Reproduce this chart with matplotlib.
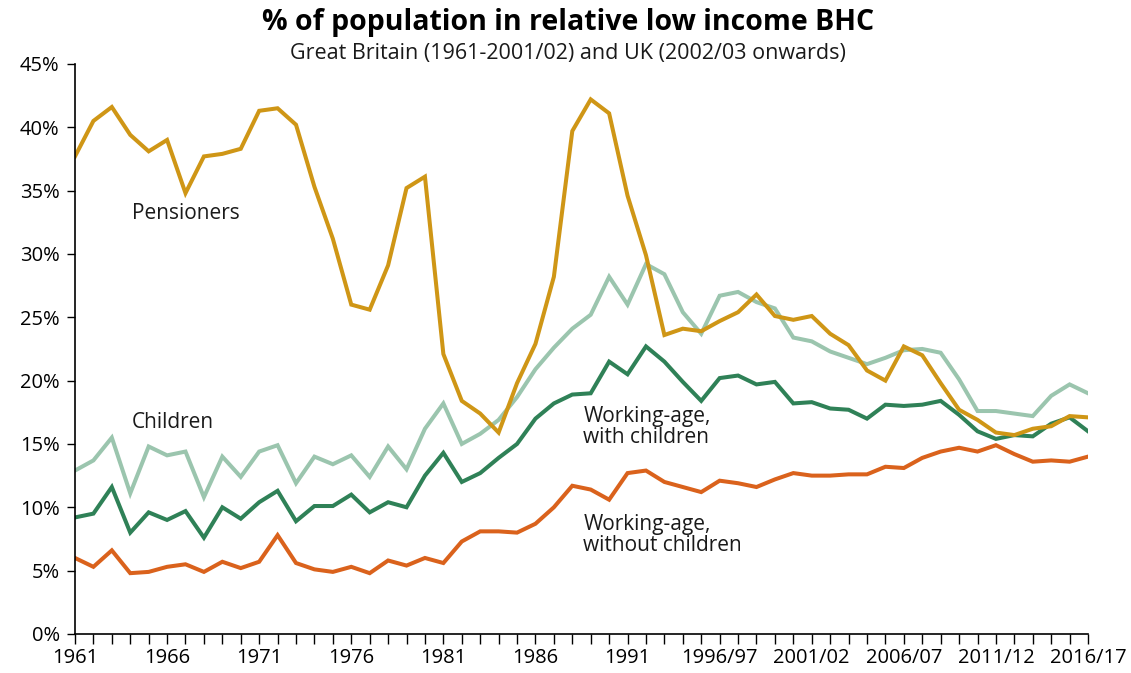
import matplotlib

matplotlib.use('Agg')
import matplotlib.pyplot as plt
from matplotlib.ticker import FuncFormatter, MultipleLocator

plt.rcParams['font.family'] = ['Open Sans', 'DejaVu Sans']

years = [str(y) for y in range(1961, 1994)] + \
        [f"{y}/{str(y + 1)[2:]}" for y in range(1994, 2017)]

pensioners = [37.7, 40.5, 41.6, 39.4, 38.1, 39.0, 34.8, 37.7, 37.9, 38.3,
              41.3, 41.5, 40.2, 35.3, 31.2, 26.0, 25.6, 29.1, 35.2, 36.1,
              22.1, 18.4, 17.4, 15.9, 19.8, 22.9, 28.2, 39.7, 42.2, 41.1,
              34.6, 29.9, 23.6, 24.1, 23.9, 24.7, 25.4, 26.8, 25.1, 24.8,
              25.1, 23.7, 22.8, 20.8, 20.0, 22.7, 22.0, 19.8, 17.7, 16.9,
              15.9, 15.7, 16.2, 16.4, 17.2, 17.1]
children = [12.9, 13.7, 15.5, 11.1, 14.8, 14.1, 14.4, 10.8, 14.0, 12.4,
            14.4, 14.9, 11.9, 14.0, 13.4, 14.1, 12.4, 14.8, 13.0, 16.2,
            18.2, 15.0, 15.8, 16.9, 18.7, 20.9, 22.6, 24.1, 25.2, 28.2,
            26.0, 29.2, 28.4, 25.4, 23.7, 26.7, 27.0, 26.2, 25.7, 23.4,
            23.1, 22.3, 21.8, 21.3, 21.8, 22.4, 22.5, 22.2, 20.1, 17.6,
            17.6, 17.4, 17.2, 18.8, 19.7, 19.0]
wa_with = [9.2, 9.5, 11.6, 8.0, 9.6, 9.0, 9.7, 7.6, 10.0, 9.1,
           10.4, 11.3, 8.9, 10.1, 10.1, 11.0, 9.6, 10.4, 10.0, 12.5,
           14.3, 12.0, 12.7, 13.9, 15.0, 17.0, 18.2, 18.9, 19.0, 21.5,
           20.5, 22.7, 21.5, 19.9, 18.4, 20.2, 20.4, 19.7, 19.9, 18.2,
           18.3, 17.8, 17.7, 17.0, 18.1, 18.0, 18.1, 18.4, 17.3, 16.0,
           15.4, 15.7, 15.6, 16.6, 17.1, 16.0]
wa_without = [6.0, 5.3, 6.6, 4.8, 4.9, 5.3, 5.5, 4.9, 5.7, 5.2,
              5.7, 7.8, 5.6, 5.1, 4.9, 5.3, 4.8, 5.8, 5.4, 6.0,
              5.6, 7.3, 8.1, 8.1, 8.0, 8.7, 10.0, 11.7, 11.4, 10.6,
              12.7, 12.9, 12.0, 11.6, 11.2, 12.1, 11.9, 11.6, 12.2, 12.7,
              12.5, 12.5, 12.6, 12.6, 13.2, 13.1, 13.9, 14.4, 14.7, 14.4,
              14.9, 14.2, 13.6, 13.7, 13.6, 14.0]

x = list(range(len(years)))

fig = plt.figure(figsize=(11.31, 6.73), dpi=100)
ax = fig.add_axes([0.0663, 0.058, 0.8957, 0.847])

lw = 2.9
ax.plot(x, children, color='#9BC5AE', lw=lw, solid_joinstyle='miter')
ax.plot(x, wa_with, color='#2F8157', lw=lw, solid_joinstyle='miter')
ax.plot(x, wa_without, color='#DA621C', lw=lw, solid_joinstyle='miter')
ax.plot(x, pensioners, color='#CF9616', lw=lw, solid_joinstyle='miter')

ax.set_xlim(0, len(years) - 1)
ax.set_ylim(0, 45)
ax.yaxis.set_major_locator(MultipleLocator(5))
ax.yaxis.set_major_formatter(FuncFormatter(lambda v, p: f"{v:.0f}%"))

ax.set_xticks(x)
ax.set_xticklabels([years[i] if i % 5 == 0 else '' for i in x])
ax.tick_params(axis='x', length=7, width=1, labelsize=14.5, pad=3, color='black')
ax.tick_params(axis='y', length=6, width=1, labelsize=14.5, pad=5, color='black')

for s in ['top', 'right']:
    ax.spines[s].set_visible(False)
for s in ['left', 'bottom']:
    ax.spines[s].set_linewidth(1.2)
    ax.spines[s].set_color('black')

lab = dict(fontsize=15, color='#1a1a1a', va='center', ha='left', linespacing=1.0)
ax.text(3.1, 33.2, 'Pensioners', **lab)
ax.text(3.1, 16.7, 'Children', **lab)
ax.text(27.6, 16.3, 'Working-age,\nwith children', **lab)
ax.text(27.6, 7.8, 'Working-age,\nwithout children', **lab)

fig.text(0.502, 0.966, '% of population in relative low income BHC',
         ha='center', va='center', fontsize=20.5, fontweight='bold', color='black')
fig.text(0.502, 0.920, 'Great Britain (1961-2001/02) and UK (2002/03 onwards)',
         ha='center', va='center', fontsize=15.5, color='#1a1a1a')

plt.savefig('out.png', dpi=100)
